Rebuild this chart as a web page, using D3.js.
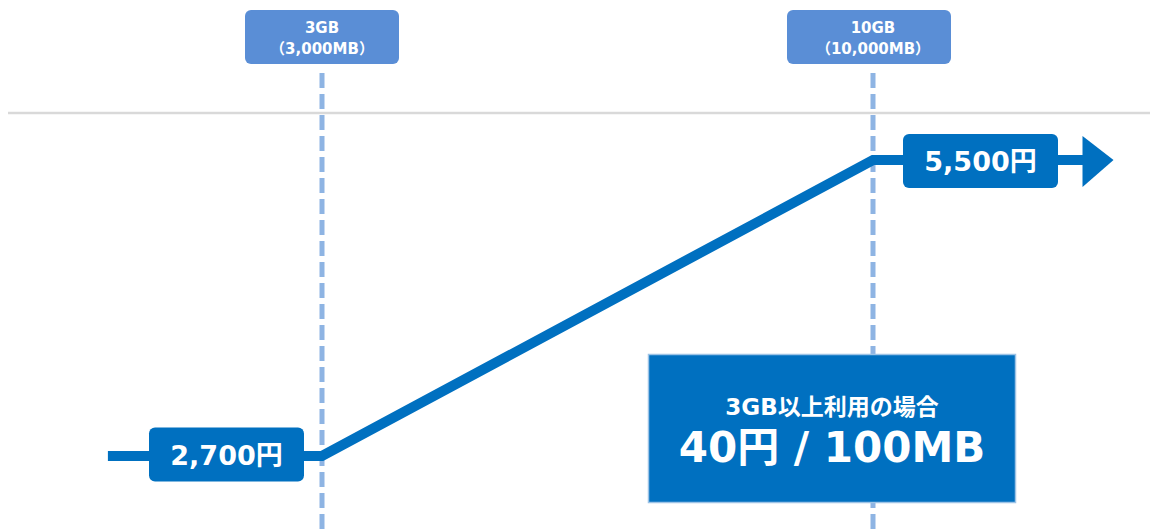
<!DOCTYPE html>
<html><head><meta charset="utf-8">
<script src="https://cdn.jsdelivr.net/npm/d3@7"></script>
<style>
html,body{margin:0;padding:0;background:#fff;}
svg{display:block;}
text{font-family:"DejaVu Sans","Noto Sans CJK JP",sans-serif;font-weight:bold;fill:#fff;}
</style></head>
<body>
<svg id="c" width="1150" height="532"></svg>
<script>
// data
const usageMB = [280, 3000, 10000, 12700];
const priceYen = [2700, 2700, 5500, 5500];
const thresholdsMB = [3000, 10000];
const thresholdLine1 = ["3GB", "10GB"];
const thresholdLine2 = ["（3,000MB）", "（10,000MB）"];
const priceLabels = ["2,700円", "5,500円"];
const noteLine1 = "3GB以上利用の場合";
const noteLine2 = "40円 / 100MB";

const svg = d3.select("#c");
const x = d3.scaleLinear().domain([3000, 10000]).range([322, 873]);
const y = d3.scaleLinear().domain([2700, 5500]).range([456, 160]);

const lineBlue = "#0070C0";
const dashBlue = "#8EB4E3";
const labelBlue = "#5A8ED6";

// gray baseline
svg.append("line").attr("x1", 8).attr("x2", 1150).attr("y1", 113).attr("y2", 113)
  .attr("stroke", "#d9d9d9").attr("stroke-width", 2.5);

// dashed threshold lines
svg.selectAll(".th").data(thresholdsMB).enter().append("line")
  .attr("x1", d => x(d)).attr("x2", d => x(d)).attr("y1", 73).attr("y2", 532)
  .attr("stroke", dashBlue).attr("stroke-width", 5).attr("stroke-dasharray", "15,6");

// threshold label boxes
const tg = svg.selectAll(".tl").data(thresholdsMB).enter().append("g")
  .attr("transform", d => `translate(${x(d)},0)`);
tg.append("rect").attr("x", (d, i) => i === 0 ? -77 : -86).attr("y", 10)
  .attr("width", (d, i) => i === 0 ? 154 : 164).attr("height", 54)
  .attr("rx", 6).attr("fill", labelBlue);
tg.append("text").attr("text-anchor", "middle").attr("y", 33).attr("font-size", 15)
  .text((d, i) => thresholdLine1[i]);
tg.append("text").attr("text-anchor", "middle").attr("y", 54).attr("font-size", 15)
  .text((d, i) => thresholdLine2[i]);

// price line
const pts = usageMB.map((u, i) => [x(u), y(priceYen[i])]);
svg.append("path").attr("d", d3.line()(pts)).attr("fill", "none")
  .attr("stroke", lineBlue).attr("stroke-width", 10).attr("stroke-linejoin", "miter");
// arrow head
const last = pts[pts.length - 1];
svg.append("path").attr("d", `M${last[0] - 3},${last[1] - 24}L${last[0] + 28},${last[1]}L${last[0] - 3},${last[1] + 27}Z`)
  .attr("fill", lineBlue);

// price label boxes
const labelPos = [[226.5, y(2700) - 1.5], [980.5, y(5500) + 1]];
const pg = svg.selectAll(".pl").data(priceLabels).enter().append("g")
  .attr("transform", (d, i) => `translate(${labelPos[i][0]},${labelPos[i][1]})`);
pg.append("rect").attr("x", -77.5).attr("y", -27).attr("width", 155).attr("height", 54)
  .attr("rx", 6).attr("fill", lineBlue);
pg.append("text").attr("text-anchor", "middle").attr("y", 10).attr("font-size", 27)
  .text(d => d);

// note box
svg.append("rect").attr("x", 648.5).attr("y", 354.5).attr("width", 367).attr("height", 148)
  .attr("fill", lineBlue).attr("stroke", "#9DC3E6").attr("stroke-width", 1.5);
svg.append("text").attr("x", 832).attr("y", 415).attr("text-anchor", "middle").attr("font-size", 23)
  .text(noteLine1);
svg.append("text").attr("x", 832).attr("y", 462).attr("text-anchor", "middle").attr("font-size", 42)
  .text(noteLine2);
</script>
</body></html>
